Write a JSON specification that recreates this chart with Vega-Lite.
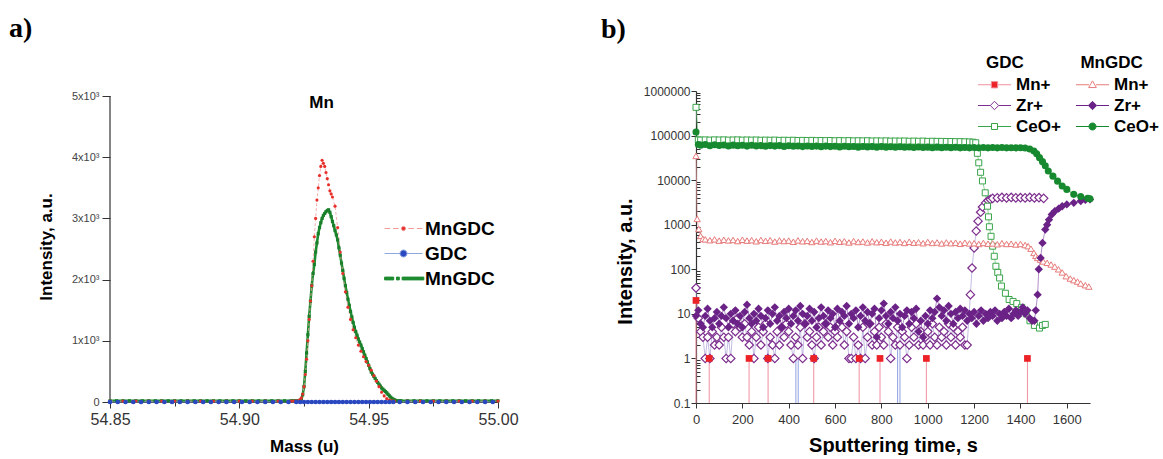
{
"$schema": "https://vega.github.io/schema/vega-lite/v6.json",
"background": "white",
"padding": {"left": 9, "top": 15, "right": 0, "bottom": 0},
"columns": 2,
"align": "none",
"spacing": 82,
"resolve": {"scale": {"shape": "independent", "fill": "independent", "stroke": "independent"}, "legend": {"shape": "independent", "fill": "independent", "stroke": "independent"}},
"config": {
  "font": "Liberation Sans",
  "view": {"stroke": null},
  "axis": {"domainColor": "#333", "tickColor": "#333", "labelFont": "Liberation Sans", "titleFont": "Liberation Sans", "grid": false, "domainWidth": 1.2, "tickWidth": 1, "titleColor": "black", "labelOverlap": false, "labelFlush": false},
  "legend": {"labelFont": "Liberation Sans", "titleFont": "Liberation Sans", "padding": 0}
},
"datasets": {
  "ma": [{"m":54.85,"i":15},{"m":54.855,"i":15},{"m":54.86,"i":15},{"m":54.865,"i":15},{"m":54.87,"i":15},{"m":54.875,"i":15},{"m":54.88,"i":15},{"m":54.885,"i":15},{"m":54.89,"i":15},{"m":54.895,"i":15},{"m":54.9,"i":15},{"m":54.905,"i":15},{"m":54.91,"i":15},{"m":54.915,"i":15},
    {"m":54.92,"i":15},{"m":54.921,"i":15},{"m":54.922,"i":20},{"m":54.923,"i":25},{"m":54.9235,"i":40},{"m":54.924,"i":70},{"m":54.9245,"i":130},{"m":54.925,"i":250},{"m":54.9255,"i":450},{"m":54.926,"i":700},{"m":54.9265,"i":1000},{"m":54.927,"i":1350},{"m":54.9275,"i":1650},{"m":54.928,"i":1900},{"m":54.9285,"i":2300},{"m":54.929,"i":2700},{"m":54.9295,"i":3000},{"m":54.93,"i":3300},{"m":54.9305,"i":3500},{"m":54.931,"i":3700},{"m":54.9315,"i":3850},{"m":54.932,"i":3950},{"m":54.9325,"i":3900},{"m":54.933,"i":3850},{"m":54.9335,"i":3750},{"m":54.934,"i":3650},{"m":54.9345,"i":3550},{"m":54.935,"i":3450},{"m":54.9355,"i":3400},{"m":54.936,"i":3350},{"m":54.937,"i":3200},{"m":54.938,"i":2850},{"m":54.939,"i":2450},{"m":54.94,"i":2100},{"m":54.941,"i":1800},{"m":54.942,"i":1550},{"m":54.943,"i":1350},{"m":54.944,"i":1180},{"m":54.945,"i":1050},{"m":54.946,"i":930},{"m":54.947,"i":830},{"m":54.948,"i":740},{"m":54.949,"i":660},{"m":54.95,"i":600},{"m":54.951,"i":520},{"m":54.952,"i":430},{"m":54.953,"i":340},{"m":54.954,"i":250},{"m":54.955,"i":160},{"m":54.956,"i":100},{"m":54.957,"i":55},{"m":54.958,"i":30},{"m":54.959,"i":20},{"m":54.96,"i":15},
    {"m":54.965,"i":15},{"m":54.97,"i":15},{"m":54.975,"i":15},{"m":54.98,"i":15},{"m":54.985,"i":15},{"m":54.99,"i":15},{"m":54.995,"i":15},{"m":55.0,"i":15}],
  "mb": [{"m":54.85,"i":20},{"m":54.8525,"i":20},{"m":54.855,"i":20},{"m":54.8575,"i":20},{"m":54.86,"i":20},{"m":54.8625,"i":20},{"m":54.865,"i":20},{"m":54.8675,"i":20},{"m":54.87,"i":20},{"m":54.8725,"i":20},{"m":54.875,"i":20},{"m":54.8775,"i":20},{"m":54.88,"i":20},{"m":54.8825,"i":20},{"m":54.885,"i":20},{"m":54.8875,"i":20},{"m":54.89,"i":20},{"m":54.8925,"i":20},{"m":54.895,"i":20},{"m":54.8975,"i":20},{"m":54.9,"i":20},{"m":54.9025,"i":20},{"m":54.905,"i":20},{"m":54.9075,"i":20},{"m":54.91,"i":20},{"m":54.9125,"i":20},{"m":54.915,"i":20},{"m":54.9175,"i":20},{"m":54.92,"i":20},
    {"m":54.921,"i":20},{"m":54.922,"i":20},{"m":54.923,"i":20},{"m":54.9235,"i":30},{"m":54.924,"i":50},{"m":54.9245,"i":120},{"m":54.925,"i":250},{"m":54.9255,"i":500},{"m":54.926,"i":800},{"m":54.9265,"i":1100},{"m":54.927,"i":1400},{"m":54.9275,"i":1650},{"m":54.928,"i":1900},{"m":54.9285,"i":2100},{"m":54.929,"i":2250},{"m":54.9295,"i":2450},{"m":54.93,"i":2600},{"m":54.9305,"i":2750},{"m":54.931,"i":2850},{"m":54.9315,"i":2930},{"m":54.932,"i":3000},{"m":54.9325,"i":3050},{"m":54.933,"i":3080},{"m":54.9335,"i":3110},{"m":54.934,"i":3130},{"m":54.9345,"i":3140},{"m":54.935,"i":3100},{"m":54.9355,"i":3030},{"m":54.936,"i":2950},{"m":54.9365,"i":2880},{"m":54.937,"i":2800},{"m":54.9375,"i":2730},{"m":54.938,"i":2650},{"m":54.9385,"i":2520},{"m":54.939,"i":2400},{"m":54.9395,"i":2270},{"m":54.94,"i":2150},{"m":54.9405,"i":2020},{"m":54.941,"i":1900},{"m":54.9415,"i":1790},{"m":54.942,"i":1680},{"m":54.9425,"i":1580},{"m":54.943,"i":1480},{"m":54.9435,"i":1390},{"m":54.944,"i":1300},{"m":54.9445,"i":1220},{"m":54.945,"i":1150},{"m":54.9455,"i":1090},{"m":54.946,"i":1030},{"m":54.9465,"i":980},{"m":54.947,"i":930},{"m":54.9475,"i":875},{"m":54.948,"i":820},{"m":54.9485,"i":765},{"m":54.949,"i":710},{"m":54.9495,"i":655},{"m":54.95,"i":600},{"m":54.9505,"i":545},{"m":54.951,"i":490},{"m":54.9515,"i":455},{"m":54.952,"i":420},{"m":54.9525,"i":385},{"m":54.953,"i":350},{"m":54.9535,"i":320},{"m":54.954,"i":290},{"m":54.9545,"i":260},{"m":54.955,"i":230},{"m":54.9555,"i":210},{"m":54.956,"i":190},{"m":54.9565,"i":170},{"m":54.957,"i":150},{"m":54.9575,"i":125},{"m":54.958,"i":100},{"m":54.9585,"i":80},{"m":54.959,"i":60},{"m":54.9595,"i":45},{"m":54.96,"i":35},{"m":54.9605,"i":25},{"m":54.961,"i":20},{"m":54.962,"i":20},
    {"m":54.9625,"i":20},{"m":54.965,"i":20},{"m":54.9675,"i":20},{"m":54.97,"i":20},{"m":54.9725,"i":20},{"m":54.975,"i":20},{"m":54.9775,"i":20},{"m":54.98,"i":20},{"m":54.9825,"i":20},{"m":54.985,"i":20},{"m":54.9875,"i":20},{"m":54.99,"i":20},{"m":54.9925,"i":20},{"m":54.995,"i":20},{"m":54.9975,"i":20},{"m":55.0,"i":20}],
  "ga": [{"m":54.85,"i":0},{"m":54.853,"i":0},{"m":54.856,"i":0},{"m":54.859,"i":0},{"m":54.862,"i":0},{"m":54.865,"i":0},{"m":54.868,"i":0},{"m":54.871,"i":0},{"m":54.874,"i":0},{"m":54.877,"i":0},{"m":54.88,"i":0},{"m":54.883,"i":0},{"m":54.886,"i":0},{"m":54.889,"i":0},{"m":54.892,"i":0},{"m":54.895,"i":0},{"m":54.898,"i":0},{"m":54.901,"i":0},{"m":54.904,"i":0},{"m":54.907,"i":0},{"m":54.91,"i":0},{"m":54.913,"i":0},{"m":54.916,"i":0},{"m":54.919,"i":0},{"m":54.922,"i":0},
    {"m":54.9235,"i":0},{"m":54.925,"i":0},{"m":54.9265,"i":0},{"m":54.928,"i":0},{"m":54.9295,"i":0},{"m":54.931,"i":0},{"m":54.9325,"i":0},{"m":54.934,"i":0},{"m":54.9355,"i":0},{"m":54.937,"i":0},{"m":54.9385,"i":0},{"m":54.94,"i":0},{"m":54.9415,"i":0},{"m":54.943,"i":0},{"m":54.9445,"i":0},{"m":54.946,"i":0},{"m":54.9475,"i":0},{"m":54.949,"i":0},{"m":54.9505,"i":0},{"m":54.952,"i":0},{"m":54.9535,"i":0},{"m":54.955,"i":0},{"m":54.9565,"i":0},{"m":54.958,"i":0},{"m":54.9595,"i":0},
    {"m":54.962,"i":0},{"m":54.965,"i":0},{"m":54.968,"i":0},{"m":54.971,"i":0},{"m":54.974,"i":0},{"m":54.977,"i":0},{"m":54.98,"i":0},{"m":54.983,"i":0},{"m":54.986,"i":0},{"m":54.989,"i":0},{"m":54.992,"i":0},{"m":54.995,"i":0},{"m":54.998,"i":0}],
  "gMn": [{"t":0,"v":20},{"t":57,"v":1},{"t":229,"v":1},{"t":311,"v":1},{"t":508,"v":1},{"t":704,"v":1},{"t":794,"v":1},{"t":994,"v":1},{"t":1430,"v":1}],
  "zrDrop": [{"t":431,"v":1},{"t":441,"v":1},{"t":870,"v":2},{"t":880,"v":2}],
  "gZr": [{"t":0,"v":38},{"t":10,"v":8},{"t":20,"v":4},{"t":30,"v":3},{"t":40,"v":1},{"t":50,"v":3},{"t":60,"v":1},{"t":70,"v":4},{"t":80,"v":2},{"t":90,"v":3},{"t":100,"v":2},{"t":110,"v":5},{"t":120,"v":3},{"t":130,"v":1},{"t":140,"v":3},{"t":150,"v":1},{"t":160,"v":6},{"t":170,"v":4},{"t":180,"v":8},{"t":190,"v":5},{"t":200,"v":3},{"t":210,"v":6},{"t":220,"v":3},{"t":230,"v":2},{"t":240,"v":4},{"t":250,"v":1},{"t":260,"v":3},{"t":270,"v":5},{"t":280,"v":2},{"t":290,"v":4},{"t":300,"v":6},{"t":310,"v":1},{"t":320,"v":3},{"t":330,"v":2},{"t":340,"v":1},{"t":350,"v":4},{"t":360,"v":2},{"t":370,"v":5},{"t":380,"v":3},{"t":390,"v":6},{"t":400,"v":4},{"t":410,"v":2},{"t":420,"v":1},{"t":430,"v":3},{"t":440,"v":2},{"t":450,"v":5},{"t":460,"v":1},{"t":470,"v":6},{"t":480,"v":3},{"t":490,"v":4},{"t":500,"v":2},{"t":510,"v":1},{"t":520,"v":3},{"t":530,"v":5},{"t":540,"v":2},{"t":550,"v":4},{"t":560,"v":6},{"t":570,"v":3},{"t":580,"v":5},{"t":590,"v":2},{"t":600,"v":4},{"t":610,"v":3},{"t":620,"v":6},{"t":630,"v":5},{"t":640,"v":2},{"t":650,"v":4},{"t":660,"v":1},{"t":670,"v":1},{"t":680,"v":3},{"t":690,"v":1},{"t":700,"v":2},{"t":710,"v":1},{"t":720,"v":5},{"t":730,"v":1},{"t":740,"v":3},{"t":750,"v":6},{"t":760,"v":2},{"t":770,"v":4},{"t":780,"v":2},{"t":790,"v":5},{"t":800,"v":3},{"t":810,"v":2},{"t":820,"v":6},{"t":830,"v":4},{"t":840,"v":1},{"t":850,"v":3},{"t":860,"v":2},{"t":870,"v":5},{"t":880,"v":2},{"t":890,"v":4},{"t":900,"v":3},{"t":910,"v":1},{"t":920,"v":2},{"t":930,"v":5},{"t":940,"v":3},{"t":950,"v":6},{"t":960,"v":2},{"t":970,"v":4},{"t":980,"v":2},{"t":990,"v":3},{"t":1000,"v":4},{"t":1010,"v":2},{"t":1020,"v":6},{"t":1030,"v":3},{"t":1040,"v":2},{"t":1050,"v":5},{"t":1060,"v":3},{"t":1070,"v":4},{"t":1080,"v":2},{"t":1090,"v":6},{"t":1100,"v":3},{"t":1110,"v":5},{"t":1120,"v":2},{"t":1130,"v":4},{"t":1140,"v":3},{"t":1150,"v":5},{"t":1160,"v":2},{"t":1170,"v":2},{"t":1184,"v":27},{"t":1191,"v":107},{"t":1200,"v":300},{"t":1209,"v":720},{"t":1217,"v":1200},{"t":1228,"v":1900},{"t":1236,"v":2500},{"t":1250,"v":3100},{"t":1260,"v":3500},{"t":1270,"v":3700},{"t":1280,"v":3900},{"t":1300,"v":4000},{"t":1320,"v":4100},{"t":1340,"v":4000},{"t":1360,"v":4100},{"t":1380,"v":4000},{"t":1400,"v":4050},{"t":1420,"v":4000},{"t":1440,"v":4100},{"t":1460,"v":4000},{"t":1480,"v":4050},{"t":1500,"v":3900}],
  "gCe": [{"t":0,"v":430000},{"t":10,"v":80000},{"t":20,"v":79000},{"t":40,"v":80000},{"t":60,"v":79000},{"t":80,"v":80000},{"t":100,"v":79500},{"t":120,"v":80000},{"t":140,"v":79000},{"t":160,"v":79500},{"t":180,"v":80000},{"t":200,"v":79000},{"t":220,"v":79500},{"t":240,"v":79000},{"t":260,"v":79500},{"t":280,"v":78500},{"t":300,"v":79000},{"t":320,"v":78500},{"t":340,"v":79000},{"t":360,"v":78000},{"t":380,"v":78500},{"t":400,"v":78000},{"t":420,"v":78500},{"t":440,"v":77500},{"t":460,"v":78000},{"t":480,"v":77500},{"t":500,"v":78000},{"t":520,"v":77000},{"t":540,"v":77500},{"t":560,"v":77000},{"t":580,"v":77500},{"t":600,"v":76500},{"t":620,"v":77000},{"t":640,"v":76500},{"t":660,"v":77000},{"t":680,"v":76000},{"t":700,"v":76500},{"t":720,"v":76000},{"t":740,"v":76500},{"t":760,"v":75500},{"t":780,"v":76000},{"t":800,"v":75500},{"t":820,"v":76000},{"t":840,"v":75000},{"t":860,"v":75500},{"t":880,"v":75000},{"t":900,"v":75500},{"t":920,"v":74500},{"t":940,"v":75000},{"t":960,"v":74500},{"t":980,"v":75000},{"t":1000,"v":74000},{"t":1020,"v":74500},{"t":1040,"v":74000},{"t":1060,"v":74000},{"t":1080,"v":73500},{"t":1100,"v":73500},{"t":1120,"v":73000},{"t":1140,"v":73000},{"t":1160,"v":72500},{"t":1180,"v":72000},{"t":1195,"v":71000},{"t":1207,"v":69000},{"t":1214,"v":40000},{"t":1220,"v":24500},{"t":1228,"v":15000},{"t":1236,"v":9600},{"t":1248,"v":5200},{"t":1258,"v":2600},{"t":1262,"v":1500},{"t":1266,"v":900},{"t":1273,"v":550},{"t":1280,"v":330},{"t":1287,"v":196},{"t":1294,"v":117},{"t":1302,"v":85},{"t":1310,"v":64},{"t":1318,"v":42},{"t":1335,"v":29},{"t":1351,"v":21},{"t":1368,"v":19},{"t":1384,"v":17},{"t":1405,"v":14},{"t":1425,"v":10},{"t":1441,"v":7},{"t":1460,"v":5.5},{"t":1482,"v":4.8},{"t":1495,"v":5.5},{"t":1507,"v":5.8}],
  "mMn": [{"t":0,"v":35000},{"t":5,"v":1350},{"t":12,"v":800},{"t":20,"v":560},{"t":30,"v":480},{"t":40,"v":470},{"t":60,"v":450},{"t":80,"v":470},{"t":100,"v":440},{"t":120,"v":460},{"t":140,"v":445},{"t":160,"v":455},{"t":180,"v":430},{"t":200,"v":460},{"t":220,"v":440},{"t":240,"v":450},{"t":260,"v":425},{"t":280,"v":455},{"t":300,"v":435},{"t":320,"v":450},{"t":340,"v":420},{"t":360,"v":445},{"t":380,"v":430},{"t":400,"v":440},{"t":420,"v":415},{"t":440,"v":445},{"t":460,"v":425},{"t":480,"v":435},{"t":500,"v":410},{"t":520,"v":440},{"t":540,"v":420},{"t":560,"v":430},{"t":580,"v":405},{"t":600,"v":435},{"t":620,"v":415},{"t":640,"v":425},{"t":660,"v":400},{"t":680,"v":430},{"t":700,"v":410},{"t":720,"v":420},{"t":740,"v":400},{"t":760,"v":425},{"t":780,"v":405},{"t":800,"v":415},{"t":820,"v":395},{"t":840,"v":420},{"t":860,"v":400},{"t":880,"v":410},{"t":900,"v":390},{"t":920,"v":415},{"t":940,"v":395},{"t":960,"v":405},{"t":980,"v":385},{"t":1000,"v":410},{"t":1020,"v":390},{"t":1040,"v":400},{"t":1060,"v":380},{"t":1080,"v":400},{"t":1100,"v":385},{"t":1120,"v":395},{"t":1140,"v":375},{"t":1160,"v":395},{"t":1180,"v":380},{"t":1200,"v":385},{"t":1220,"v":370},{"t":1240,"v":390},{"t":1260,"v":375},{"t":1280,"v":380},{"t":1300,"v":365},{"t":1320,"v":385},{"t":1340,"v":370},{"t":1360,"v":375},{"t":1380,"v":360},{"t":1400,"v":370},{"t":1420,"v":350},{"t":1433,"v":330},{"t":1445,"v":290},{"t":1458,"v":233},{"t":1466,"v":200},{"t":1474,"v":180},{"t":1486,"v":165},{"t":1498,"v":150},{"t":1515,"v":140},{"t":1532,"v":128},{"t":1548,"v":115},{"t":1564,"v":100},{"t":1580,"v":85},{"t":1597,"v":70},{"t":1615,"v":62},{"t":1630,"v":57},{"t":1646,"v":53},{"t":1660,"v":48},{"t":1680,"v":44},{"t":1695,"v":41}],
  "mZr": [{"t":0,"v":9},{"t":10,"v":12},{"t":20,"v":6},{"t":30,"v":5},{"t":40,"v":9},{"t":50,"v":13},{"t":60,"v":7},{"t":70,"v":5},{"t":80,"v":8},{"t":90,"v":11},{"t":100,"v":6},{"t":110,"v":9},{"t":120,"v":14},{"t":130,"v":8},{"t":140,"v":5},{"t":150,"v":10},{"t":160,"v":7},{"t":170,"v":12},{"t":180,"v":6},{"t":190,"v":9},{"t":200,"v":5},{"t":210,"v":11},{"t":220,"v":16},{"t":230,"v":8},{"t":240,"v":6},{"t":250,"v":10},{"t":260,"v":7},{"t":270,"v":13},{"t":280,"v":9},{"t":290,"v":5},{"t":300,"v":8},{"t":310,"v":12},{"t":320,"v":6},{"t":330,"v":10},{"t":340,"v":14},{"t":350,"v":7},{"t":360,"v":9},{"t":370,"v":5},{"t":380,"v":11},{"t":390,"v":8},{"t":400,"v":13},{"t":410,"v":6},{"t":420,"v":9},{"t":430,"v":12},{"t":440,"v":7},{"t":450,"v":15},{"t":460,"v":10},{"t":470,"v":6},{"t":480,"v":9},{"t":490,"v":13},{"t":500,"v":7},{"t":510,"v":11},{"t":520,"v":5},{"t":530,"v":8},{"t":540,"v":14},{"t":550,"v":9},{"t":560,"v":6},{"t":570,"v":12},{"t":580,"v":8},{"t":590,"v":10},{"t":600,"v":5},{"t":610,"v":13},{"t":620,"v":7},{"t":630,"v":11},{"t":640,"v":9},{"t":650,"v":15},{"t":660,"v":6},{"t":670,"v":10},{"t":680,"v":8},{"t":690,"v":12},{"t":700,"v":5},{"t":710,"v":9},{"t":720,"v":14},{"t":730,"v":7},{"t":740,"v":11},{"t":750,"v":6},{"t":760,"v":10},{"t":770,"v":13},{"t":780,"v":3},{"t":790,"v":8},{"t":800,"v":12},{"t":810,"v":17},{"t":820,"v":9},{"t":830,"v":6},{"t":840,"v":11},{"t":850,"v":8},{"t":860,"v":14},{"t":870,"v":7},{"t":880,"v":10},{"t":890,"v":5},{"t":900,"v":9},{"t":910,"v":12},{"t":920,"v":6},{"t":930,"v":11},{"t":940,"v":8},{"t":950,"v":13},{"t":960,"v":4},{"t":970,"v":7},{"t":980,"v":3},{"t":990,"v":9},{"t":1000,"v":6},{"t":1010,"v":12},{"t":1020,"v":8},{"t":1030,"v":11},{"t":1040,"v":22},{"t":1050,"v":14},{"t":1060,"v":9},{"t":1070,"v":12},{"t":1080,"v":7},{"t":1090,"v":15},{"t":1100,"v":10},{"t":1110,"v":6},{"t":1120,"v":11},{"t":1130,"v":8},{"t":1140,"v":13},{"t":1150,"v":9},{"t":1160,"v":12},{"t":1170,"v":7},{"t":1180,"v":10},{"t":1190,"v":8},{"t":1200,"v":11},{"t":1210,"v":6},{"t":1220,"v":9},{"t":1230,"v":12},{"t":1240,"v":7},{"t":1250,"v":10},{"t":1260,"v":8},{"t":1270,"v":11},{"t":1280,"v":9},{"t":1290,"v":12},{"t":1300,"v":7},{"t":1310,"v":10},{"t":1320,"v":8},{"t":1330,"v":11},{"t":1340,"v":9},{"t":1350,"v":13},{"t":1360,"v":8},{"t":1370,"v":10},{"t":1380,"v":12},{"t":1390,"v":9},{"t":1400,"v":11},{"t":1410,"v":14},{"t":1420,"v":10},{"t":1430,"v":12},{"t":1440,"v":8},{"t":1450,"v":7},{"t":1460,"v":7},{"t":1466,"v":12},{"t":1474,"v":27},{"t":1479,"v":100},{"t":1487,"v":180},{"t":1495,"v":390},{"t":1507,"v":780},{"t":1515,"v":1000},{"t":1523,"v":1300},{"t":1535,"v":1700},{"t":1548,"v":2000},{"t":1565,"v":2300},{"t":1580,"v":2600},{"t":1600,"v":2850},{"t":1630,"v":3100},{"t":1660,"v":3400},{"t":1680,"v":3600},{"t":1700,"v":3700}],
  "mCe": [{"t":0,"v":120000},{"t":10,"v":63000},{"t":20,"v":61000},{"t":40,"v":63000},{"t":60,"v":59000},{"t":80,"v":62000},{"t":100,"v":60000},{"t":120,"v":61500},{"t":140,"v":58500},{"t":160,"v":61000},{"t":180,"v":59000},{"t":200,"v":60500},{"t":220,"v":58000},{"t":240,"v":60500},{"t":260,"v":58500},{"t":280,"v":59500},{"t":300,"v":57500},{"t":320,"v":59500},{"t":340,"v":58000},{"t":360,"v":59500},{"t":380,"v":57000},{"t":400,"v":59000},{"t":420,"v":57500},{"t":440,"v":58500},{"t":460,"v":56500},{"t":480,"v":58500},{"t":500,"v":57000},{"t":520,"v":58000},{"t":540,"v":56000},{"t":560,"v":58000},{"t":580,"v":56500},{"t":600,"v":57500},{"t":620,"v":55500},{"t":640,"v":57500},{"t":660,"v":56000},{"t":680,"v":57000},{"t":700,"v":55000},{"t":720,"v":57000},{"t":740,"v":55500},{"t":760,"v":56500},{"t":780,"v":54500},{"t":800,"v":56500},{"t":820,"v":55000},{"t":840,"v":56000},{"t":860,"v":54500},{"t":880,"v":56000},{"t":900,"v":54500},{"t":920,"v":55500},{"t":940,"v":54000},{"t":960,"v":55500},{"t":980,"v":54000},{"t":1000,"v":55000},{"t":1020,"v":53500},{"t":1040,"v":55000},{"t":1060,"v":53500},{"t":1080,"v":54500},{"t":1100,"v":53500},{"t":1120,"v":54500},{"t":1140,"v":53000},{"t":1160,"v":54000},{"t":1180,"v":53000},{"t":1200,"v":54000},{"t":1220,"v":53000},{"t":1240,"v":54000},{"t":1260,"v":53000},{"t":1280,"v":54000},{"t":1300,"v":53000},{"t":1320,"v":54000},{"t":1340,"v":53000},{"t":1360,"v":53500},{"t":1380,"v":53000},{"t":1400,"v":53500},{"t":1420,"v":52500},{"t":1440,"v":50000},{"t":1458,"v":45000},{"t":1470,"v":39000},{"t":1482,"v":32000},{"t":1495,"v":26000},{"t":1507,"v":21000},{"t":1520,"v":16000},{"t":1540,"v":12300},{"t":1560,"v":9500},{"t":1580,"v":7400},{"t":1600,"v":6200},{"t":1630,"v":4800},{"t":1660,"v":4300},{"t":1690,"v":3900},{"t":1700,"v":3800}],
  "lab": [{"label": "Mn"}]
},
"concat": [
{
  "width": 388, "height": 311,
  "title": {"text": "a)", "anchor": "start", "frame": "group", "dx": -101, "offset": 47, "font": "Liberation Serif", "fontSize": 28, "fontWeight": "bold", "color": "black"},
  "layer": [
    {"data": {"name": "mb"}, "mark": {"type": "line", "color": "#1d8b2f", "strokeWidth": 2.6},
     "encoding": {
       "x": {"field": "m", "type": "quantitative", "scale": {"domain": [54.85, 55.0], "nice": false, "zero": false},
             "axis": {"values": [54.85,54.875,54.9,54.925,54.95,54.975,55.0], "labelExpr": "abs(datum.value*20 - round(datum.value*20)) < 0.01 ? format(datum.value, '.2f') : ''",
                      "tickSize": {"condition": {"test": "abs(datum.value*20 - round(datum.value*20)) < 0.01", "value": 6}, "value": 4},
                      "labelFontSize": 16, "labelColor": "#333", "labelPadding": 3, "title": "Mass (u)", "titleFontSize": 17, "titleFontWeight": "bold", "titlePadding": 11}},
       "y": {"field": "i", "type": "quantitative", "scale": {"domain": [0, 5082], "nice": false},
             "axis": {"domain": false, "values": [0,500,1000,1500,2000,2500,3000,3500,4000,4500,5000], "labelExpr": "datum.value % 1000 == 0 ? (datum.value == 0 ? '0' : format(datum.value/1000, 'd') + 'x10³') : ''",
                      "tickSize": {"condition": {"test": "datum.value % 1000 == 0", "value": 8}, "value": 4},
                      "labelFontSize": 11, "labelColor": "#444", "labelPadding": 3, "title": "Intensity, a.u.", "titleFontSize": 17, "titleFontWeight": "bold", "titlePadding": 16}}
     }},
    {"data": {"name": "lab"}, "mark": {"type": "rule", "color": "#333", "strokeWidth": 1.2},
     "encoding": {"x": {"datum": 54.85, "type": "quantitative"}, "y": {"datum": 0, "type": "quantitative"}, "y2": {"datum": 5000}}},
    {"data": {"name": "ma"}, "mark": {"type": "line", "color": "#f29a9a", "strokeWidth": 0.8, "strokeDash": [3, 2]},
     "encoding": {"x": {"field": "m", "type": "quantitative"}, "y": {"field": "i", "type": "quantitative"}}},
    {"data": {"name": "ga"}, "mark": {"type": "line", "color": "#90a8e0", "strokeWidth": 0.8},
     "encoding": {"x": {"field": "m", "type": "quantitative"}, "y": {"field": "i", "type": "quantitative"}}},
    {"data": {"name": "mb"}, "mark": {"type": "square", "color": "#1a7f2a", "size": 10, "opacity": 1},
     "encoding": {"x": {"field": "m", "type": "quantitative"}, "y": {"field": "i", "type": "quantitative"}}},
    {"data": {"name": "ma"}, "mark": {"type": "circle", "color": "#e8302b", "size": 10, "opacity": 1},
     "encoding": {"x": {"field": "m", "type": "quantitative"}, "y": {"field": "i", "type": "quantitative"}}},
    {"data": {"name": "ga"}, "mark": {"type": "circle", "color": "#2a48c0", "size": 22, "opacity": 1},
     "encoding": {"x": {"field": "m", "type": "quantitative"}, "y": {"field": "i", "type": "quantitative"}}},
    {"data": {"name": "lab"}, "mark": {"type": "text", "fontSize": 17, "fontWeight": "bold", "color": "black", "baseline": "middle", "align": "center"},
     "encoding": {"x": {"datum": 54.9318, "type": "quantitative"}, "y": {"datum": 4880, "type": "quantitative"}, "text": {"field": "label"}}},
    {"data": {"name": "ga"}, "transform": [{"filter": "false"}],
     "mark": {"type": "point", "opacity": 1, "size": 196},
     "encoding": {
       "shape": {"field": "s", "type": "nominal", "scale": {"domain": ["MnGDC", "GDC", "MnGDC2"], "range": [
          "M-2.7,0H-1.9M-1.5,0H-0.7M0.7,0H1.5M1.9,0H2.7M-0.3,0A0.3,0.3 0 1,0 0.3,0A0.3,0.3 0 1,0 -0.3,0Z",
          "M-2.7,0H-0.5M0.5,0H2.7M-0.5,0A0.5,0.5 0 1,0 0.5,0A0.5,0.5 0 1,0 -0.5,0Z",
          "M-2.7,-0.2H-1.4V0.2H-2.7ZM-1.0,-0.2H-0.6V0.2H-1.0ZM-0.2,-0.2H2.9V0.2H-0.2Z"]},
          "legend": {"title": null, "orient": "none", "legendX": 284, "legendY": 128, "symbolSize": 196, "symbolStrokeWidth": 1, "labelOffset": 12, "labelFontSize": 19, "labelFontWeight": "bold", "labelColor": "black", "rowPadding": 5, "labelExpr": "replace(datum.label, '2', '')"}},
       "fill": {"field": "s", "type": "nominal", "scale": {"domain": ["MnGDC", "GDC", "MnGDC2"], "range": ["#e8302b", "#2a48c0", "#1d8b2f"]},
          "legend": {"title": null, "orient": "none", "legendX": 284, "legendY": 128, "symbolSize": 196, "symbolStrokeWidth": 1, "labelOffset": 12, "labelFontSize": 19, "labelFontWeight": "bold", "labelColor": "black", "rowPadding": 5, "labelExpr": "replace(datum.label, '2', '')"}},
       "stroke": {"field": "s", "type": "nominal", "scale": {"domain": ["MnGDC", "GDC", "MnGDC2"], "range": ["#f29a9a", "#90a8e0", "#1d8b2f"]},
          "legend": {"title": null, "orient": "none", "legendX": 284, "legendY": 128, "symbolSize": 196, "symbolStrokeWidth": 1, "labelOffset": 12, "labelFontSize": 19, "labelFontWeight": "bold", "labelColor": "black", "rowPadding": 5, "labelExpr": "replace(datum.label, '2', '')"}}
     }}
  ]
},
{
  "width": 394, "height": 312,
  "title": {"text": "b)", "anchor": "start", "frame": "group", "dx": -95, "offset": 11, "font": "Liberation Serif", "fontSize": 28, "fontWeight": "bold", "color": "black"},
  "layer": [
    {"data": {"name": "gZr"}, "mark": {"type": "line", "color": "#9a8fd0", "strokeWidth": 0.6},
     "encoding": {
       "x": {"field": "t", "type": "quantitative", "scale": {"domain": [0, 1700], "nice": false, "zero": false},
             "axis": {"values": [0,100,200,300,400,500,600,700,800,900,1000,1100,1200,1300,1400,1500,1600,1700], "labelExpr": "datum.value % 200 == 0 ? format(datum.value, 'd') : ''",
                      "tickSize": {"condition": {"test": "datum.value % 200 == 0", "value": 5}, "value": 3},
                      "labelFontSize": 13, "labelColor": "#333", "labelPadding": 5, "title": "Sputtering time, s", "titleFontSize": 20, "titleFontWeight": "bold", "titlePadding": 9}},
       "y": {"field": "v", "type": "quantitative", "scale": {"type": "log", "domain": [0.1, 1000000], "nice": false},
             "axis": {"values": [0.1,0.2,0.3,0.4,0.5,0.6,0.7,0.8,0.9,1,2,3,4,5,6,7,8,9,10,20,30,40,50,60,70,80,90,100,200,300,400,500,600,700,800,900,1000,2000,3000,4000,5000,6000,7000,8000,9000,10000,20000,30000,40000,50000,60000,70000,80000,90000,100000,200000,300000,400000,500000,600000,700000,800000,900000,1000000],
                      "labelExpr": "abs(log(datum.value)/LN10 - round(log(datum.value)/LN10)) < 0.001 ? (datum.value < 1 ? '0.1' : format(datum.value, 'd')) : ''",
                      "tickSize": {"condition": {"test": "abs(log(datum.value)/LN10 - round(log(datum.value)/LN10)) < 0.001", "value": 5}, "value": -4},
                      "labelFontSize": 12, "labelColor": "#333", "labelPadding": 1, "title": "Intensity, a.u.", "titleFontSize": 20, "titleFontWeight": "bold", "titleX": -61, "titleY": 170}}
     }},
    {"data": {"name": "zrDrop"}, "mark": {"type": "rule", "color": "#8f9fe0", "strokeWidth": 1},
     "encoding": {"x": {"field": "t", "type": "quantitative"}, "y": {"field": "v", "type": "quantitative"}, "y2": {"datum": 0.1}}},
    {"data": {"name": "gMn"}, "mark": {"type": "rule", "color": "#f0909f", "strokeWidth": 1},
     "encoding": {"x": {"field": "t", "type": "quantitative"}, "y": {"field": "v", "type": "quantitative"}, "y2": {"datum": 0.1}}},
    {"data": {"name": "gCe"}, "mark": {"type": "line", "color": "#5fbf6f", "strokeWidth": 0.7},
     "encoding": {"x": {"field": "t", "type": "quantitative"}, "y": {"field": "v", "type": "quantitative"}}},
    {"data": {"name": "mMn"}, "mark": {"type": "line", "color": "#f0a0a0", "strokeWidth": 0.7},
     "encoding": {"x": {"field": "t", "type": "quantitative"}, "y": {"field": "v", "type": "quantitative"}}},
    {"data": {"name": "mZr"}, "mark": {"type": "line", "color": "#9060b0", "strokeWidth": 0.7},
     "encoding": {"x": {"field": "t", "type": "quantitative"}, "y": {"field": "v", "type": "quantitative"}}},
    {"data": {"name": "mCe"}, "mark": {"type": "line", "color": "#178a30", "strokeWidth": 0.8},
     "encoding": {"x": {"field": "t", "type": "quantitative"}, "y": {"field": "v", "type": "quantitative"}}},
    {"data": {"name": "gZr"}, "mark": {"type": "point", "shape": "diamond", "fill": "white", "stroke": "#7d2e8e", "strokeWidth": 1.2, "size": 70, "opacity": 1},
     "encoding": {"x": {"field": "t", "type": "quantitative"}, "y": {"field": "v", "type": "quantitative"}}},
    {"data": {"name": "gCe"}, "mark": {"type": "point", "shape": "square", "fill": "white", "stroke": "#3aa44a", "strokeWidth": 1, "size": 36, "opacity": 1},
     "encoding": {"x": {"field": "t", "type": "quantitative"}, "y": {"field": "v", "type": "quantitative"}}},
    {"data": {"name": "mMn"}, "mark": {"type": "point", "shape": "triangle-up", "fill": "white", "stroke": "#e77b7b", "strokeWidth": 1, "size": 40, "opacity": 1},
     "encoding": {"x": {"field": "t", "type": "quantitative"}, "y": {"field": "v", "type": "quantitative"}}},
    {"data": {"name": "mZr"}, "mark": {"type": "point", "shape": "diamond", "filled": true, "color": "#6b2287", "size": 70, "opacity": 1},
     "encoding": {"x": {"field": "t", "type": "quantitative"}, "y": {"field": "v", "type": "quantitative"}}},
    {"data": {"name": "mCe"}, "mark": {"type": "point", "shape": "circle", "filled": true, "color": "#178a30", "size": 50, "opacity": 1},
     "encoding": {"x": {"field": "t", "type": "quantitative"}, "y": {"field": "v", "type": "quantitative"}}},
    {"data": {"name": "gMn"}, "mark": {"type": "point", "shape": "square", "filled": true, "color": "#ec2227", "size": 45, "opacity": 1},
     "encoding": {"x": {"field": "t", "type": "quantitative"}, "y": {"field": "v", "type": "quantitative"}}},
    {"data": {"name": "gMn"}, "transform": [{"filter": "false"}],
     "mark": {"type": "point", "opacity": 1, "size": 196},
     "encoding": {
       "shape": {"field": "s", "type": "nominal", "scale": {"domain": ["GDC Mn+", "GDC Zr+", "GDC CeO+", "MnGDC Mn+", "MnGDC Zr+", "MnGDC CeO+"], "range": [
          "M-2.36,0H-0.45M0.45,0H2.36M-0.45,-0.45H0.45V0.45H-0.45Z",
          "M-2.36,0H-0.6M0.6,0H2.36M0,-0.6L0.6,0L0,0.6L-0.6,0Z",
          "M-2.36,0H-0.43M0.43,0H2.36M-0.43,-0.43H0.43V0.43H-0.43Z",
          "M-2.36,0H-0.5M0.5,0H2.36M0,-0.55L0.55,0.4H-0.55Z",
          "M-2.36,0H-0.6M0.6,0H2.36M0,-0.6L0.6,0L0,0.6L-0.6,0Z",
          "M-2.36,0H-0.5M0.5,0H2.36M-0.5,0A0.5,0.5 0 1,0 0.5,0A0.5,0.5 0 1,0 -0.5,0Z"]},
          "legend": {"title": "GDC\u00a0\u00a0\u00a0\u00a0\u00a0\u00a0\u00a0\u00a0\u00a0\u00a0\u00a0\u00a0MnGDC", "columns": 2, "orient": "none", "legendX": 290, "legendY": -36, "symbolSize": 196, "symbolStrokeWidth": 1, "labelOffset": 13, "labelFontSize": 17, "labelFontWeight": "bold", "labelColor": "black", "titleFontSize": 17, "titleFontWeight": "bold", "titleColor": "black", "titlePadding": 4, "rowPadding": 3, "columnPadding": 12, "labelExpr": "replace(replace(datum.label, 'MnGDC ', ''), 'GDC ', '')"}},
       "fill": {"field": "s", "type": "nominal", "scale": {"domain": ["GDC Mn+", "GDC Zr+", "GDC CeO+", "MnGDC Mn+", "MnGDC Zr+", "MnGDC CeO+"], "range": ["#ec2227", "white", "white", "white", "#6b2287", "#178a30"]},
          "legend": {"title": "GDC\u00a0\u00a0\u00a0\u00a0\u00a0\u00a0\u00a0\u00a0\u00a0\u00a0\u00a0\u00a0MnGDC", "columns": 2, "orient": "none", "legendX": 290, "legendY": -36, "symbolSize": 196, "symbolStrokeWidth": 1, "labelOffset": 13, "labelFontSize": 17, "labelFontWeight": "bold", "labelColor": "black", "titleFontSize": 17, "titleFontWeight": "bold", "titleColor": "black", "titlePadding": 4, "rowPadding": 3, "columnPadding": 12, "labelExpr": "replace(replace(datum.label, 'MnGDC ', ''), 'GDC ', '')"}},
       "stroke": {"field": "s", "type": "nominal", "scale": {"domain": ["GDC Mn+", "GDC Zr+", "GDC CeO+", "MnGDC Mn+", "MnGDC Zr+", "MnGDC CeO+"], "range": ["#f0909f", "#7d2e8e", "#3aa44a", "#e77b7b", "#6b2287", "#178a30"]},
          "legend": {"title": "GDC\u00a0\u00a0\u00a0\u00a0\u00a0\u00a0\u00a0\u00a0\u00a0\u00a0\u00a0\u00a0MnGDC", "columns": 2, "orient": "none", "legendX": 290, "legendY": -36, "symbolSize": 196, "symbolStrokeWidth": 1, "labelOffset": 13, "labelFontSize": 17, "labelFontWeight": "bold", "labelColor": "black", "titleFontSize": 17, "titleFontWeight": "bold", "titleColor": "black", "titlePadding": 4, "rowPadding": 3, "columnPadding": 12, "labelExpr": "replace(replace(datum.label, 'MnGDC ', ''), 'GDC ', '')"}}
     }}
  ]
}
]
}
